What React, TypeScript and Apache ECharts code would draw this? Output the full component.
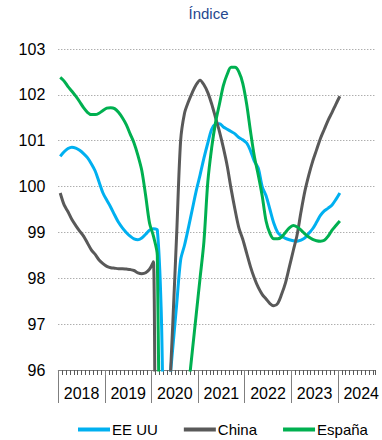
import React, { useEffect, useRef } from "react";
import * as echarts from "echarts";

// Monthly data, Jan 2018 .. Jan 2024 (index 0 = Jan 2018)
const years = ["2018", "2019", "2020", "2021", "2022", "2023", "2024"];
const seriesNames = ["EE UU", "China", "España"];

const usValues = [
  100.66, 100.76, 100.83, 100.86, 100.84, 100.79, 100.72, 100.63, 100.5, 100.34, 100.1, 99.86,
  99.7, 99.55, 99.38, 99.22, 99.1, 99.0, 98.92, 98.86, 98.84, 98.88, 98.96, 99.05,
  99.08, 99.05, 97.3, 93.5, 95.5, 96.5, 97.45, 98.4, 98.72, 99.1, 99.5, 99.9,
  100.25, 100.62, 100.95, 101.25, 101.36, 101.37, 101.3, 101.25, 101.2, 101.15, 101.07, 101.02,
  100.95, 100.78, 100.55, 100.4, 100.0, 99.8, 99.5, 99.2, 99.0, 98.92, 98.87, 98.84,
  98.82, 98.81, 98.83, 98.88, 98.98, 99.08, 99.22, 99.37, 99.47, 99.53, 99.6, 99.72,
  99.86,
];

const chinaValues = [
  99.86, 99.6, 99.45, 99.28, 99.15, 99.03, 98.92, 98.77, 98.62, 98.52, 98.4, 98.32,
  98.26, 98.23, 98.22, 98.21, 98.21, 98.2, 98.19, 98.17, 98.12, 98.1, 98.12, 98.2,
  98.36, 82, 88, 92, 95.1, 97.05, 99.0, 101.0, 101.6, 101.85, 102.05, 102.22,
  102.32, 102.22, 102.05, 101.8, 101.5, 101.2, 100.85, 100.45, 99.95, 99.5, 99.1, 98.85,
  98.55, 98.25, 98.0, 97.8, 97.65, 97.55, 97.45, 97.4, 97.45, 97.65, 97.9, 98.25,
  98.6, 98.95, 99.45, 99.9, 100.25, 100.55, 100.8, 101.05, 101.25, 101.45, 101.62, 101.8,
  101.97,
];

const spainValues = [
  102.38, 102.3, 102.18, 102.08, 101.97, 101.85, 101.72, 101.62, 101.57, 101.57, 101.6, 101.66,
  101.71, 101.72, 101.7, 101.62, 101.5, 101.35, 101.15, 100.95, 100.68, 100.35, 99.8, 99.2,
  98.92, 98.5, 90, 84, 86, 89, 92, 93.8, 94.8, 95.6, 96.4, 97.2,
  98.0, 98.8, 100.1, 100.85, 101.4, 101.8, 102.2, 102.45, 102.6, 102.6, 102.5, 102.25,
  101.8, 101.2, 100.65, 100.25, 99.8, 99.25, 98.98, 98.86, 98.86, 98.9, 99.0, 99.1,
  99.15, 99.12, 99.05, 98.97, 98.9, 98.85, 98.82, 98.81, 98.83, 98.92, 99.05, 99.15,
  99.25,
];

const FONT = "'Liberation Sans', Arial, sans-serif";
const colors = ["#00B0F0", "#595959", "#00B050"];

// month index -> position at the middle of the month
const toPoints = (vals: number[]) => vals.map((v, i) => [i + 0.5, v]);

export default function App() {
  const ref = useRef<HTMLDivElement>(null);
  useEffect(() => {
    if (!ref.current) return;
    const chart = echarts.init(ref.current, null, { renderer: "svg" });
    const axisMax = 81.5;
    const yearTicks = years.map((_, k) => k * 12);
    const yearLabelPos = years.map((_, k) => k * 12 + 6);
    chart.setOption({
      animation: false,
      textStyle: { fontFamily: FONT },
      graphic: [
        {
          type: "text",
          x: 208.5,
          y: 13,
          style: {
            text: "Índice",
            fill: "#25478f",
            font: `15px ${FONT}`,
            align: "center",
            verticalAlign: "middle",
          },
        },
      ],
      grid: { left: 58.3, right: 0, top: 49, bottom: 70, containLabel: false },
      legend: {
        data: seriesNames,
        left: 78,
        top: 422,
        width: 320,
        padding: 0,
        icon: "rect",
        itemWidth: 32,
        itemHeight: 4,
        itemGap: 26,
        textStyle: { fontSize: 15, color: "#000", fontFamily: FONT, padding: [0, 0, 0, -3] },
      },
      xAxis: [
        {
          type: "value",
          min: 0,
          max: axisMax,
          interval: 1,
          position: "bottom",
          axisLine: { show: true, lineStyle: { color: "#7f7f7f", width: 1 } },
          axisTick: { show: true, length: 5, lineStyle: { color: "#595959", width: 1 } },
          axisLabel: { show: false },
          splitLine: { show: false },
        },
        {
          type: "value",
          min: 0,
          max: axisMax,
          position: "bottom",
          axisLine: { show: false },
          axisTick: {
            show: true,
            length: 33,
            customValues: yearTicks,
            lineStyle: { color: "#7f7f7f", width: 1 },
          },
          axisLabel: {
            show: true,
            customValues: yearLabelPos,
            formatter: (v: number) => years[Math.round((v - 6) / 12)] ?? "",
            fontSize: 16,
            color: "#000",
            margin: 15,
            fontFamily: FONT,
          },
          splitLine: { show: false },
        },
      ],
      yAxis: {
        type: "value",
        min: 96,
        max: 103,
        interval: 1,
        axisLine: { show: false },
        axisTick: { show: false },
        axisLabel: { fontSize: 16, color: "#000", margin: 13, fontFamily: FONT },
        splitLine: { show: true, lineStyle: { type: [1, 2], color: "#8c8c8c", width: 1 } },
      },
      series: [usValues, chinaValues, spainValues].map((vals, k) => ({
        name: seriesNames[k],
        type: "line",
        xAxisIndex: 0,
        data: toPoints(vals),
        smooth: 0.3,
        showSymbol: false,
        symbol: "none",
        clip: true,
        lineStyle: { color: colors[k], width: 3 },
        itemStyle: { color: colors[k] },
      })),
    });
    return () => chart.dispose();
  }, []);
  return (
    <div
      ref={ref}
      style={{ position: "absolute", left: 0, top: 0, width: 382, height: 440 }}
    />
  );
}
